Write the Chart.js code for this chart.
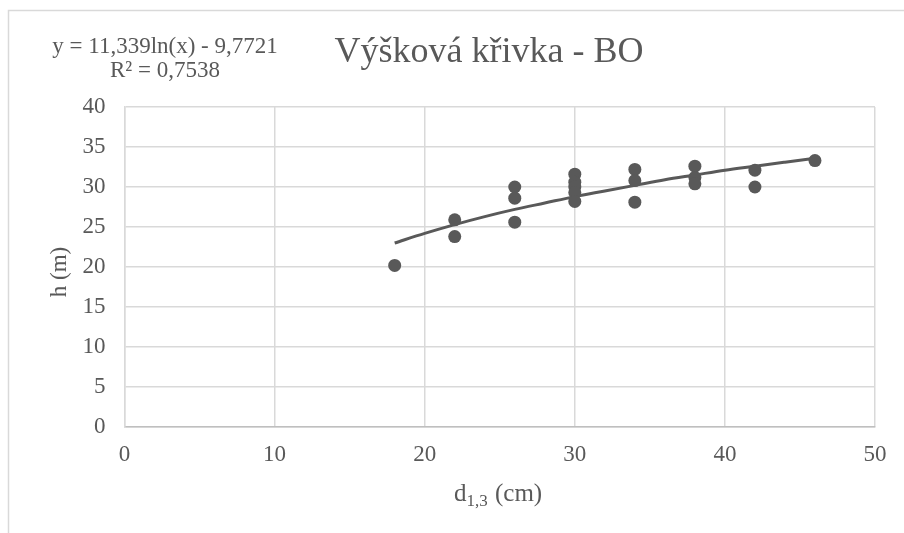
<!DOCTYPE html>
<html>
<head>
<meta charset="utf-8">
<script src="https://cdn.jsdelivr.net/npm/chart.js@4"></script>
<style>
  html, body { margin: 0; padding: 0; background: #fff; }
  canvas { display: block; }
</style>
</head>
<body>
<canvas id="vyskovaChart" width="904" height="533"></canvas>
<script>
// namerene hodnoty - tloustka d1,3 (cm) a vyska h (m)
const diameters = [18, 22, 22, 26, 26, 26, 30, 30, 30, 30, 30, 34, 34, 34, 38, 38, 38, 42, 42, 46];
const heights = [20.2, 25.9, 23.8, 30.0, 28.6, 25.6, 31.6, 30.6, 30.0, 29.3, 28.2, 32.2, 30.8, 28.1, 32.6, 31.2, 30.4, 32.1, 30.0, 33.3];

// spojnice trendu
const trendX = [18, 20, 22, 24, 26, 28, 30, 32, 34, 36, 38, 40, 42, 44, 46];
const trendY = [23.0, 24.2, 25.3, 26.3, 27.2, 28.0, 28.8, 29.5, 30.2, 30.9, 31.5, 32.1, 32.6, 33.1, 33.6];

const xTicks = [0, 10, 20, 30, 40, 50];
const yTicks = [0, 5, 10, 15, 20, 25, 30, 35, 40];

const titleText = "Výšková křivka - BO";
const equationText = "y = 11,339ln(x) - 9,7721";
const r2Text = "R² = 0,7538";

const textColor = "#595959";
const markColor = "#595959";
const gridColor = "#d9d9d9";
const serif = "'Liberation Serif', 'Times New Roman', serif";

const points = diameters.map((d, i) => ({ x: d, y: heights[i] }));
const trend = trendX.map((d, i) => ({ x: d, y: trendY[i] }));

// ramecek, nadpis, rovnice a popisky os
const decorations = {
  id: "decorations",
  beforeDraw(chart) {
    const ctx = chart.ctx;
    ctx.save();
    ctx.fillStyle = "#fff";
    ctx.fillRect(0, 0, chart.width, chart.height);
    ctx.strokeStyle = gridColor;
    ctx.lineWidth = 1.5;
    ctx.strokeRect(8.5, 10.5, 2000, 2000);
    ctx.restore();
  },
  afterDraw(chart) {
    const ctx = chart.ctx;
    ctx.save();
    ctx.fillStyle = textColor;
    ctx.textBaseline = "alphabetic";

    ctx.textAlign = "center";
    ctx.font = "36px " + serif;
    ctx.fillText(titleText, 489, 62);

    ctx.font = "23px " + serif;
    ctx.fillText(equationText, 165, 53);
    ctx.fillText(r2Text, 165, 77);

    // popisek osy x s dolnim indexem
    ctx.textAlign = "left";
    let x = 454;
    ctx.font = "25px " + serif;
    ctx.fillText("d", x, 501);
    x += ctx.measureText("d").width;
    ctx.font = "17px " + serif;
    ctx.fillText("1,3", x, 506);
    x += ctx.measureText("1,3").width + 1;
    ctx.font = "25px " + serif;
    ctx.fillText(" (cm)", x, 501);

    // popisek osy y
    ctx.translate(60, 272);
    ctx.rotate(-Math.PI / 2);
    ctx.textAlign = "center";
    ctx.textBaseline = "middle";
    ctx.font = "23px " + serif;
    ctx.fillText("h (m)", 0, 0);
    ctx.restore();
  },
};

new Chart(document.getElementById("vyskovaChart"), {
  type: "scatter",
  data: {
    datasets: [
      {
        label: "trend",
        data: trend,
        showLine: true,
        borderColor: markColor,
        borderWidth: 3,
        pointRadius: 0,
        cubicInterpolationMode: "monotone",
        order: 2,
      },
      {
        label: "h",
        data: points,
        backgroundColor: markColor,
        borderColor: markColor,
        pointRadius: 6.5,
        borderWidth: 0,
        order: 1,
      },
    ],
  },
  options: {
    responsive: false,
    animation: false,
    layout: {
      padding: { top: 107, right: 29, bottom: 0, left: 0 },
    },
    plugins: {
      legend: { display: false },
      title: { display: false },
      tooltip: { enabled: false },
    },
    scales: {
      x: {
        type: "linear",
        min: 0,
        max: 50,
        afterBuildTicks: (axis) => {
          axis.ticks = xTicks.map((v) => ({ value: v }));
        },
        afterFit: (axis) => {
          axis.height = 106;
        },
        grid: { color: gridColor, lineWidth: 1.5, drawTicks: false },
        border: { color: "#bfbfbf", width: 1.5 },
        ticks: {
          color: textColor,
          padding: 14,
          font: { family: serif, size: 23 },
        },
      },
      y: {
        type: "linear",
        min: 0,
        max: 40,
        afterBuildTicks: (axis) => {
          axis.ticks = yTicks.map((v) => ({ value: v }));
        },
        afterFit: (axis) => {
          axis.width = 124.5;
        },
        grid: { color: gridColor, lineWidth: 1.5, drawTicks: false },
        border: { color: gridColor, width: 1.5 },
        ticks: {
          color: textColor,
          padding: 19,
          font: { family: serif, size: 23 },
        },
      },
    },
  },
  plugins: [decorations],
});
</script>
</body>
</html>
